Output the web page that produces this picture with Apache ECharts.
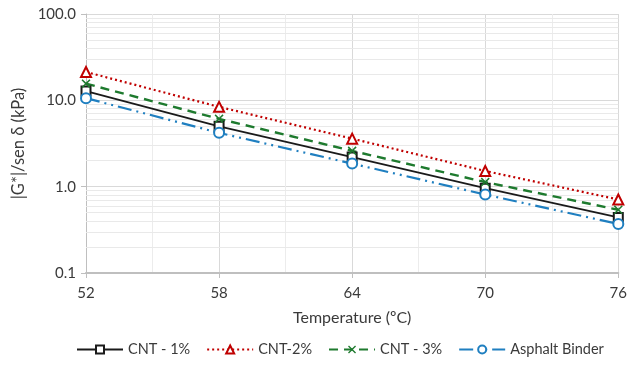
<!DOCTYPE html>
<html><head><meta charset="utf-8">
<script src="https://cdn.jsdelivr.net/npm/echarts@6/dist/echarts.min.js"></script>
<style>html,body{margin:0;padding:0;background:#fff}#c{width:630px;height:369px}</style>
</head><body><div id="c"></div>
<script>
const temperatures = [52, 58, 64, 70, 76];
const cnt1 = [12.8, 5.0, 2.2, 0.96, 0.44];
const cnt2 = [21.3, 8.4, 3.6, 1.52, 0.71];
const cnt3 = [15.6, 6.1, 2.6, 1.13, 0.54];
const binder = [10.6, 4.2, 1.85, 0.81, 0.37];
const minorYValues = [0.2,0.3,0.4,0.5,0.6,0.7,0.8,0.9,2,3,4,5,6,7,8,9,20,30,40,50,60,70,80,90];

const font = 'Lato, "Open Sans", sans-serif';
const pair = arr => temperatures.map((t, i) => [t, arr[i]]);
const xPath = 'path://M0,1.2L1.2,0L5,3.8L8.8,0L10,1.2L6.2,5L10,8.8L8.8,10L5,6.2L1.2,10L0,8.8L3.8,5Z';

const chart = echarts.init(document.getElementById('c'));
chart.setOption({
  animation: false,
  textStyle: { fontFamily: font },
  grid: { left: 86, right: 11, top: 14, bottom: 96 },
  legend: {
    bottom: 7, left: 71, itemWidth: 46, itemHeight: 10, itemGap: 16,
    textStyle: { fontFamily: font, fontSize: 14.5, color: '#3a3a3a' },
    data: ['CNT - 1%', 'CNT-2%', 'CNT - 3%', 'Asphalt Binder']
  },
  xAxis: {
    type: 'value', min: 52, max: 76, interval: 6,
    name: 'Temperature (ºC)', nameLocation: 'middle', nameGap: 37,
    nameTextStyle: { fontFamily: font, fontSize: 16, color: '#3a3a3a' },
    axisLine: { show: true, lineStyle: { color: '#bfbfbf', width: 2 } },
    axisTick: { show: true, length: 5, lineStyle: { color: '#bfbfbf' } },
    axisLabel: { fontFamily: font, fontSize: 15, color: '#3a3a3a', margin: 13 },
    splitLine: { show: true, lineStyle: { color: '#d9d9d9', width: 1 } },
    minorTick: { show: false, splitNumber: 2 },
    minorSplitLine: { show: true, lineStyle: { color: '#ececec', width: 1 } }
  },
  yAxis: {
    type: 'log', logBase: 10, min: 0.1, max: 100,
    name: '|G*|/sen δ (kPa)', nameLocation: 'middle', nameGap: 56,
    nameTextStyle: { fontFamily: font, fontSize: 16.5, color: '#3a3a3a' },
    axisLine: { show: true, lineStyle: { color: '#bfbfbf', width: 1 } },
    axisTick: { show: true, length: 5, lineStyle: { color: '#bfbfbf' } },
    axisLabel: { fontFamily: font, fontSize: 15, color: '#3a3a3a', margin: 10,
      formatter: v => Number(v).toFixed(1) },
    splitLine: { show: true, lineStyle: { color: '#d9d9d9', width: 1 } }
  },
  series: [
    {
      name: 'CNT - 1%', type: 'line', data: pair(cnt1), z: 4,
      symbol: 'emptyRect', symbolSize: 9,
      lineStyle: { color: '#1a1a1a', width: 1.8, type: 'solid' },
      itemStyle: { color: '#1a1a1a', borderWidth: 1.7 },
      markLine: {
        silent: true, symbol: 'none', label: { show: false }, z: 1,
        lineStyle: { color: '#e9e9e9', width: 1, type: 'solid' },
        data: minorYValues.map(v => ({ yAxis: v }))
      }
    },
    {
      name: 'CNT-2%', type: 'line', data: pair(cnt2), z: 4,
      symbol: 'emptyTriangle', symbolSize: 10,
      lineStyle: { color: '#c00000', width: 2.2, type: [2, 3] },
      itemStyle: { color: '#c00000', borderWidth: 1.7 }
    },
    {
      name: 'CNT - 3%', type: 'line', data: pair(cnt3), z: 4,
      symbol: xPath, symbolSize: 9,
      lineStyle: { color: '#1e7a2e', width: 2.4, type: [9, 6] },
      itemStyle: { color: '#1e7a2e' }
    },
    {
      name: 'Asphalt Binder', type: 'line', data: pair(binder), z: 4,
      symbol: 'emptyCircle', symbolSize: 10,
      lineStyle: { color: '#1f7fc0', width: 2.2, type: [14, 5, 2, 5, 2, 5] },
      itemStyle: { color: '#1f7fc0', borderWidth: 1.7 }
    }
  ]
});
</script></body></html>
